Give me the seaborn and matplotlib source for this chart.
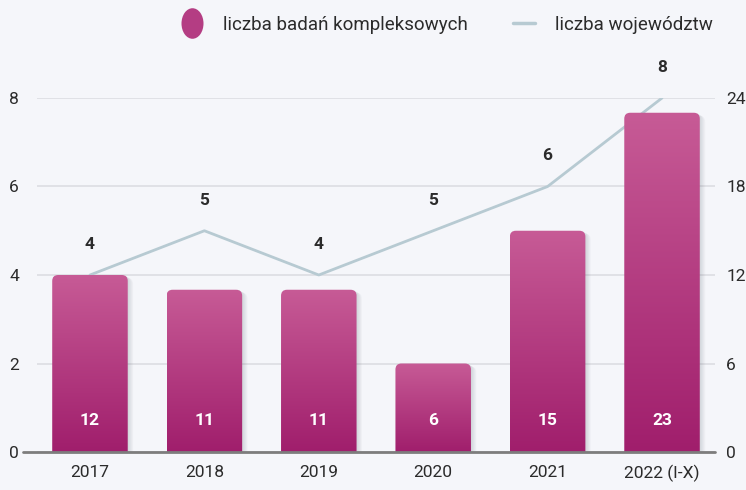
import numpy as np
import matplotlib
matplotlib.use("Agg")
import matplotlib.pyplot as plt
import seaborn as sns
from matplotlib.patches import FancyBboxPatch
from matplotlib.lines import Line2D
from matplotlib.path import Path
from matplotlib.transforms import Affine2D
from matplotlib.colors import LinearSegmentedColormap

years = ["2017", "2018", "2019", "2020", "2021", "2022 (I-X)"]
badania = [12, 11, 11, 6, 15, 23]      # liczba badań kompleksowych (right axis)
wojewodztwa = [4, 5, 4, 5, 6, 8]        # liczba województw (left axis)
left_ticks = [0, 2, 4, 6, 8]
right_ticks = [0, 6, 12, 18, 24]

bg = "#f5f6fa"
bar_top = "#c75b96"
bar_bottom = "#a01e6c"
line_col = "#b7cad2"
text_col = "#2b2b2b"

sns.set_theme(style="white")
plt.rcParams["font.family"] = ["Roboto", "DejaVu Sans"]

fig = plt.figure(figsize=(7.46, 4.90), dpi=100, facecolor=bg)
ax = fig.add_axes([37 / 746, 38 / 490, 678 / 746, 354 / 490])
ax.set_facecolor(bg)
ax2 = ax.twinx()

# line (left axis), drawn behind the bars
sns.lineplot(x=years, y=wojewodztwa, ax=ax, color=line_col, linewidth=2, sort=False)
ax.set_ylim(0, 8)
ax.set_yticks(left_ticks)
ax.grid(axis="y", color="#dcdde2", linewidth=1.2)
ax.grid(axis="x", visible=False)

# bars (right axis)
sns.barplot(x=years, y=badania, ax=ax2, width=0.66, color=bar_top)
ax2.set_ylim(0, 24)
ax2.set_yticks(right_ticks)
ax2.grid(False)
ax.set_xlim(-0.463, len(years) - 1 + 0.463)

cmap = LinearSegmentedColormap.from_list("bar", [bar_bottom, bar_top])
grad = np.linspace(0, 1, 256).reshape(-1, 1)
px_x = 678 / (ax.get_xlim()[1] - ax.get_xlim()[0])
px_y = 354 / 24
aspect = px_x / px_y
rs = 6 / px_x
for p in list(ax2.patches):
    x0, w, h = p.get_x(), p.get_width(), p.get_height()
    p.set_visible(False)
    # soft shadow
    for k in range(1, 7):
        sh = FancyBboxPatch((x0 + k * 0.9 / px_x, -1), w, h + 1 - k * 0.5 / px_y,
                            boxstyle=f"round,pad=0,rounding_size={rs}",
                            mutation_aspect=aspect, facecolor="#55606a",
                            edgecolor="none", alpha=0.035, zorder=1,
                            transform=ax2.transData)
        ax2.add_patch(sh)
    clip = FancyBboxPatch((x0, -1), w, h + 1,
                          boxstyle=f"round,pad=0,rounding_size={rs}",
                          mutation_aspect=aspect, facecolor="none",
                          edgecolor="none", transform=ax2.transData)
    ax2.add_patch(clip)
    im = ax2.imshow(grad, extent=[x0, x0 + w, 0, h], origin="lower", cmap=cmap,
                    aspect="auto", zorder=2)
    im.set_clip_path(clip)

ax2.set_ylim(0, 24)
ax.set_xlim(-0.463, len(years) - 1 + 0.463)

# labels
for i, (b, v) in enumerate(zip(badania, wojewodztwa)):
    ax2.annotate(str(b), (i, 0), xytext=(0, 23), textcoords="offset points",
                 ha="center", va="center", color="white", fontsize=12.5,
                 fontweight="bold", zorder=5)
    ax.annotate(str(v), (i, v), xytext=(0, 22), textcoords="offset points",
                ha="center", va="center", color=text_col, fontsize=12.5,
                fontweight="bold", annotation_clip=False)

for a in (ax, ax2):
    for s in a.spines.values():
        s.set_visible(False)
    a.tick_params(length=0, labelsize=12.5, labelcolor=text_col)
    a.set_xlabel("")
    a.set_ylabel("")
ax.tick_params(axis="y", pad=13)
ax2.tick_params(axis="y", pad=8)
ax.tick_params(axis="x", pad=9)
ax2.axhline(0, color="#7d7d7d", linewidth=2, zorder=4, xmin=-0.02, xmax=1.0, clip_on=False)

ellipse = Affine2D().scale(0.72, 1.0).transform_path(Path.unit_circle())
handles = [
    Line2D([], [], marker=ellipse, linestyle="none", markersize=22,
           markerfacecolor="#b43d83", markeredgecolor="none"),
    Line2D([], [], color=line_col, linewidth=2.5),
]
fig.legend(handles, ["liczba badań kompleksowych", "liczba województw"],
           loc="center right", bbox_to_anchor=(0.978, 0.95), ncol=2, frameon=False,
           fontsize=13.5, labelcolor=text_col, handlelength=1.2, columnspacing=2.4,
           handletextpad=1.05)

fig.savefig("out.png", dpi=100, facecolor=bg)
